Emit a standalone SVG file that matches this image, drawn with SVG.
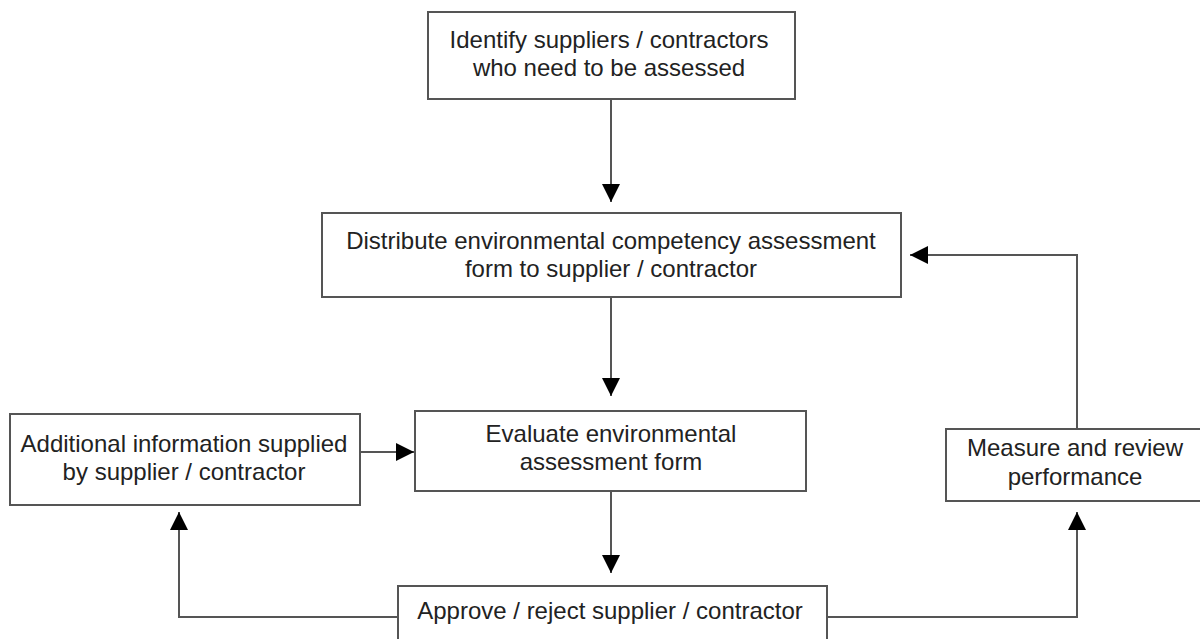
<svg xmlns="http://www.w3.org/2000/svg" width="1200" height="639" viewBox="0 0 1200 639">
<style>
.box{fill:#fff;stroke:#555;stroke-width:2}
.t{font-family:"Liberation Sans",Arial,sans-serif;font-size:24px;fill:#222;text-anchor:middle}
.c{fill:none;stroke:#555;stroke-width:2;marker-end:url(#ah)}
</style>
<defs>
<marker id="ah" markerUnits="userSpaceOnUse" markerWidth="18" markerHeight="18" refX="18" refY="9" orient="auto" viewBox="0 0 18 18">
<path d="M0,0 L18,9 L0,18 z" fill="#000"/>
</marker>
</defs>
<rect width="1200" height="639" fill="#fff"/>
<g id="connectors">
<path class="c" d="M611,99 V202"/>
<path class="c" d="M611,297 V396"/>
<path class="c" d="M611,491 V573"/>
<path class="c" d="M360,452 H414"/>
<path class="c" d="M398,617 H179 V512"/>
<path class="c" d="M827,617 H1077 V512"/>
<path class="c" d="M1077,429 V255 H910"/>
</g>
<g id="identify">
<rect class="box" x="428" y="12" width="367" height="87"/>
<text class="t" x="609" y="48">Identify suppliers / contractors</text>
<text class="t" x="609" y="76">who need to be assessed</text>
</g>
<g id="distribute">
<rect class="box" x="322" y="213" width="579" height="84"/>
<text class="t" x="611" y="249">Distribute environmental competency assessment</text>
<text class="t" x="611" y="277">form to supplier / contractor</text>
</g>
<g id="evaluate">
<rect class="box" x="415" y="411" width="391" height="80"/>
<text class="t" x="611" y="442">Evaluate environmental</text>
<text class="t" x="611" y="470">assessment form</text>
</g>
<g id="additional">
<rect class="box" x="10" y="414" width="350" height="91"/>
<text class="t" x="184" y="452">Additional information supplied</text>
<text class="t" x="184" y="480">by supplier / contractor</text>
</g>
<g id="measure">
<rect class="box" x="946" y="429" width="256" height="72"/>
<text class="t" x="1075" y="456">Measure and review</text>
<text class="t" x="1075" y="485">performance</text>
</g>
<g id="approve">
<rect class="box" x="398" y="586" width="429" height="70"/>
<text class="t" x="610" y="619">Approve / reject supplier / contractor</text>
</g>
</svg>
